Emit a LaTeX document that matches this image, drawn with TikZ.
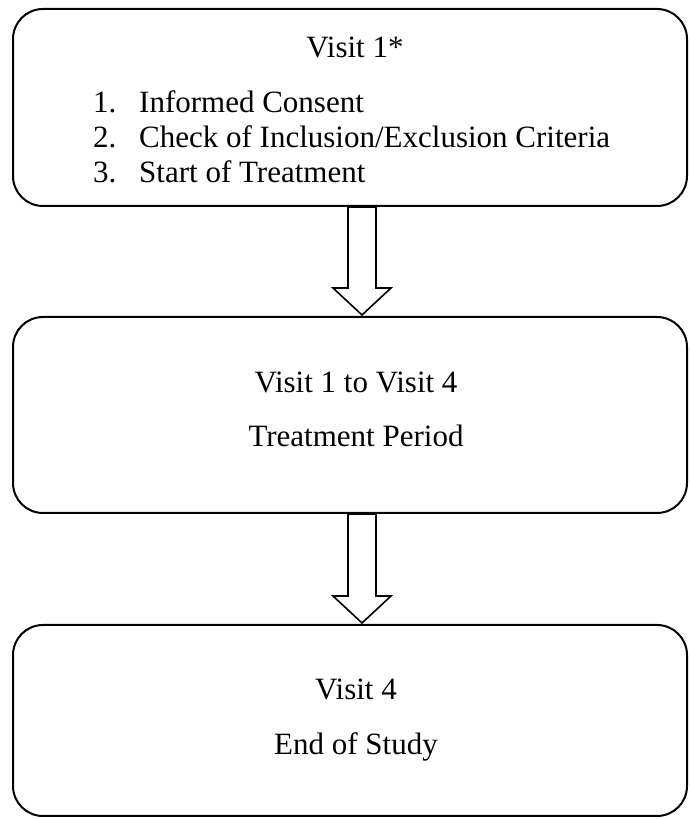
\documentclass[tikz,border=0pt]{standalone}
\usepackage{fontspec}
\setmainfont{Liberation Serif}
\usetikzlibrary{calc}
\begin{document}
\begin{tikzpicture}[x=1pt,y=1pt,
  box/.style={draw=black, line width=2pt, rounded corners=30pt, inner sep=0pt},
  blockarrow/.style={draw=black, line width=1.6pt, fill=white, line join=miter},
  txt/.style={font=\fontsize{31}{36}\selectfont, inner sep=0pt, anchor=base},
  itm/.style={font=\fontsize{31}{36}\selectfont, inner sep=0pt, anchor=base west}]
\useasboundingbox (0,0) rectangle (689,819);
\fill[white] (0,0) rectangle (689,819);
% boxes
\node[box, minimum width=674pt, minimum height=197pt] (b1) at (350,711.5) {};
\node[box, minimum width=674pt, minimum height=196pt] (b2) at (350,404) {};
\node[box, minimum width=674pt, minimum height=191pt] (b3) at (350,98.5) {};
% arrows
\coordinate (a1s) at ($(b1.south)+(12,0)$);
\coordinate (a1e) at ($(b2.north)+(12,1)$);
\draw[blockarrow] ($(a1s)+(-14,0)$) -- ($(a1e)+(-14,27)$) -- ($(a1e)+(-29,27)$) -- (a1e)
  -- ($(a1e)+(29,27)$) -- ($(a1e)+(14,27)$) -- ($(a1s)+(14,0)$) -- cycle;
\coordinate (a2s) at ($(b2.south)+(12,0)$);
\coordinate (a2e) at ($(b3.north)+(12,1)$);
\draw[blockarrow] ($(a2s)+(-14,0)$) -- ($(a2e)+(-14,27)$) -- ($(a2e)+(-29,27)$) -- (a2e)
  -- ($(a2e)+(29,27)$) -- ($(a2e)+(14,27)$) -- ($(a2s)+(14,0)$) -- cycle;
% texts
\node[txt] (t1) at (355,761) {Visit 1*};
\node[itm] (n1) at (93,706) {1.};
\node[itm] (i1) at (139,706) {Informed Consent};
\node[itm] (n2) at (93,671) {2.};
\node[itm] (i2) at (139,671) {Check of Inclusion/Exclusion Criteria};
\node[itm] (n3) at (93,636) {3.};
\node[itm] (i3) at (139,636) {Start of Treatment};
\node[txt] (t2) at (356,426) {Visit 1 to Visit 4};
\node[txt] (t3) at (356,372) {Treatment Period};
\node[txt] (t4) at (356,119) {Visit 4};
\node[txt] (t5) at (356,64) {End of Study};
\end{tikzpicture}
\end{document}
